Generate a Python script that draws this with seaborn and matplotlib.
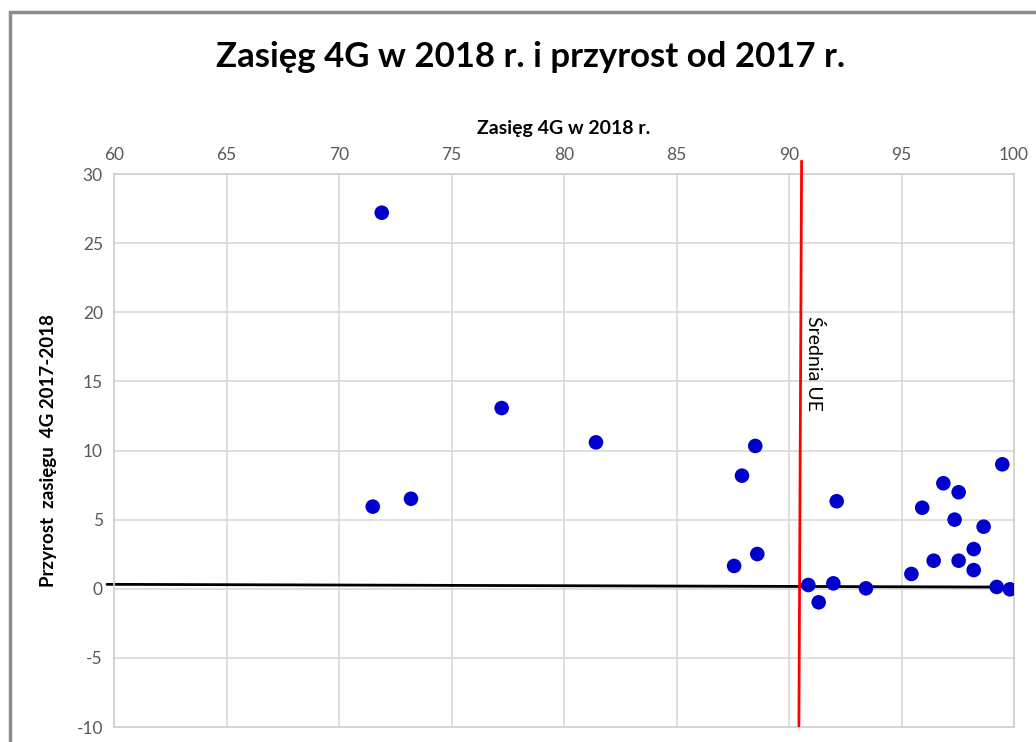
import matplotlib
matplotlib.use("Agg")
import matplotlib.pyplot as plt
import seaborn as sns
import pandas as pd
from matplotlib.patches import Rectangle

# Data
coverage_2018 = [71.90, 71.50, 73.20, 77.23, 81.42, 87.91, 88.50, 87.56, 88.59,
                 90.86, 91.32, 91.97, 92.12, 93.42, 95.44, 95.92, 96.43, 96.86,
                 97.36, 97.54, 97.54, 98.21, 98.21, 98.65, 99.23, 99.48, 99.82]
growth_2017_2018 = [27.2, 5.94, 6.51, 13.07, 10.59, 8.18, 10.33, 1.65, 2.51,
                    0.27, -0.98, 0.39, 6.33, 0.03, 1.07, 5.86, 2.03, 7.63,
                    5.0, 6.98, 2.03, 2.87, 1.35, 4.49, 0.13, 9.00, -0.04]
eu_average_x = [90.56, 90.44]
eu_average_y = [30.94, -9.93]
zero_line_x = [59.69, 99.8]
zero_line_y = [0.32, 0.12]
x_ticks = [60, 65, 70, 75, 80, 85, 90, 95, 100]
y_ticks = [-10, -5, 0, 5, 10, 15, 20, 25, 30]

df = pd.DataFrame({"x": coverage_2018, "y": growth_2017_2018})

sns.set_theme(style="white")
plt.rcParams['font.family'] = ['Lato', 'DejaVu Sans']
plt.rcParams['axes.unicode_minus'] = False

fig = plt.figure(figsize=(10.36, 7.42), dpi=100)
ax = fig.add_axes([114/1036, 1 - 727/742, 900/1036, 553/742])

# outer chart frame
fig.patches.append(Rectangle((10/1036, -0.05), 1.1, 1 - 12/742 + 0.05,
                             transform=fig.transFigure, fill=False,
                             edgecolor="#8c8c8c", linewidth=2.5, zorder=0))

ax.grid(True, color="#d9d9d9", linewidth=1.2)
ax.set_axisbelow(True)
for s in ax.spines.values():
    s.set_color("#d0d0d0")
    s.set_linewidth(1.2)

ax.plot(zero_line_x, zero_line_y, color="black", linewidth=2, clip_on=False, zorder=2)
ax.plot(eu_average_x, eu_average_y, color="#ff0000", linewidth=2, clip_on=False, zorder=4)

sns.scatterplot(data=df, x="x", y="y", ax=ax, color="#0000cc", s=110,
                edgecolor="none", zorder=3)

ax.set_xlim(60, 100)
ax.set_ylim(-10, 30)
ax.set_xticks(x_ticks)
ax.set_yticks(y_ticks)
ax.xaxis.tick_top()
ax.xaxis.set_label_position("top")
ax.tick_params(axis="both", length=0, labelsize=12.5, labelcolor="#595959", pad=8)

ax.text(91.1, 19.7, "Średnia UE", rotation=-90, ha="center", va="top",
        fontsize=14, color="black")

ax.set_xlabel("Zasięg 4G w 2018 r.", fontsize=14, fontweight="bold",
              color="black", labelpad=9)
ax.set_ylabel("Przyrost  zasięgu  4G 2017-2018", fontsize=13.5, fontweight="bold",
              color="black", labelpad=14)

fig.text(531/1036, 1 - 57/742, "Zasięg 4G w 2018 r. i przyrost od 2017 r.",
         ha="center", va="center", fontsize=25, fontweight="bold", color="black")

fig.savefig("out.png", dpi=100, facecolor="white")
